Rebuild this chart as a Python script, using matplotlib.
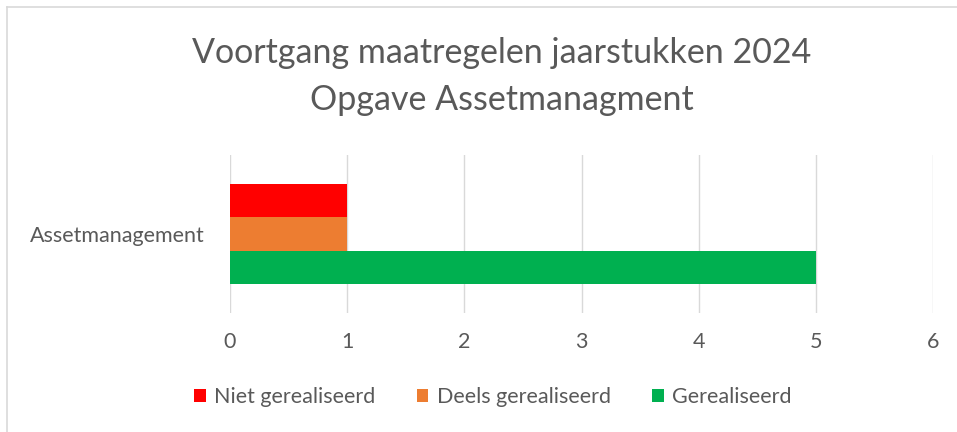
import numpy as np
import matplotlib.pyplot as plt
from matplotlib.lines import Line2D

# data
category = 'Assetmanagement'
series = ['Niet gerealiseerd', 'Deels gerealiseerd', 'Gerealiseerd']
values = [1, 1, 5]
colors = ['#ff0000', '#ed7d31', '#00b050']
xticks = [0, 1, 2, 3, 4, 5, 6]

plt.rcParams['font.family'] = ['Lato', 'DejaVu Sans']
txt = '#595959'

fig = plt.figure(figsize=(9.57, 4.32), dpi=100)
ax = fig.add_axes([0.2403, 0.2755, 0.7347, 0.3657])

bar_h = 0.213
offsets = [bar_h, 0, -bar_h]
for name, val, col, off in zip(series, values, colors, offsets):
    ax.barh(off, val, height=bar_h, color=col, label=name, zorder=3)

ax.set_xlim(0, 6)
ax.set_ylim(-0.5, 0.5)
ax.set_xticks(xticks)
ax.set_xticklabels([str(t) for t in xticks], fontsize=15.5, color=txt)
ax.set_yticks([0])
ax.set_yticklabels([category], fontsize=15.5, color=txt)
ax.tick_params(length=0, pad=14, axis='x')
ax.tick_params(length=0, pad=18, axis='y')
ax.grid(axis='x', color='#d9d9d9', linewidth=1, zorder=0)
for s in ax.spines.values():
    s.set_visible(False)

fig.suptitle('Voortgang maatregelen jaarstukken 2024\nOpgave Assetmanagment',
             x=0.524, y=0.915, fontsize=24.5, color=txt, linespacing=1.6)

fig.legend(loc='center', bbox_to_anchor=(0.515, 0.081), ncol=3, frameon=False,
           fontsize=15.5, labelcolor=txt, handlelength=0.55, handleheight=0.55,
           handletextpad=0.4, columnspacing=1.9)

# outer frame lines (top and left)
fig.add_artist(Line2D([7/957, 1], [1-7/432, 1-7/432], color='#d9d9d9', lw=1.2, transform=fig.transFigure))
fig.add_artist(Line2D([7/957, 7/957], [0, 1-7/432], color='#d9d9d9', lw=1.2, transform=fig.transFigure))

fig.savefig('out.png', dpi=100, facecolor='white')
